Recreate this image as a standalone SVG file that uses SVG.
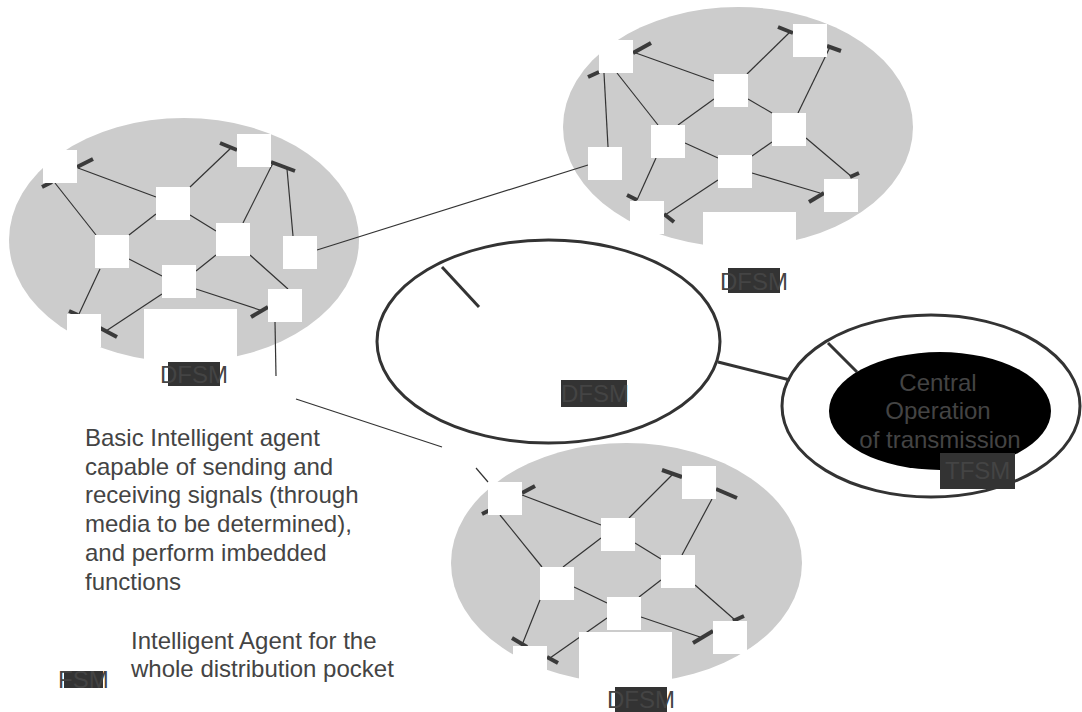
<svg xmlns="http://www.w3.org/2000/svg" width="1082" height="712" viewBox="0 0 1082 712">
<style>
.pk{fill:#cccccc;stroke:none}
.sq{fill:#ffffff;stroke:none}
.bx{fill:#ffffff;stroke:none}
.ln{stroke:#333333;stroke-width:1.2;fill:none}
.tk{stroke:#3a3a3a;stroke-width:4;fill:none}
.hv{stroke:#333333;stroke-width:3}
.ring{fill:#ffffff;stroke:#333333;stroke-width:3}
.t{font-family:"Liberation Sans",Arial,sans-serif;font-size:24px;fill:#444444}
.tag{fill:#333333}
</style>
<rect width="1082" height="712" fill="#ffffff"/>

<!-- pockets (backgrounds) -->
<g id="pocket-left"><ellipse class="pk" cx="184" cy="240" rx="175" ry="122"/></g>
<g id="pocket-topright"><ellipse class="pk" cx="738" cy="127" rx="175" ry="120"/></g>
<g id="pocket-bottom"><ellipse class="pk" cx="626.5" cy="563" rx="175.5" ry="120"/></g>

<g id="central-ellipse"><ellipse class="ring" cx="548.5" cy="341.5" rx="171.5" ry="101.5"/></g>
<g id="transmission-ring"><ellipse class="ring" cx="931" cy="406" rx="149" ry="91"/></g>

<!-- connectors -->
<g id="connectors">
  <!-- left pocket -->
  <line class="ln" x1="78" y1="168" x2="156" y2="197"/>
  <line class="ln" x1="55" y1="183" x2="96" y2="235"/>
  <line class="ln" x1="190" y1="187" x2="232" y2="147"/>
  <line class="ln" x1="273" y1="163" x2="243" y2="223"/>
  <line class="ln" x1="287" y1="169" x2="293" y2="236"/>
  <line class="ln" x1="156" y1="214" x2="129" y2="235"/>
  <line class="ln" x1="190" y1="215" x2="216" y2="231"/>
  <line class="ln" x1="129" y1="259" x2="162" y2="276"/>
  <line class="ln" x1="216" y1="255" x2="196" y2="271"/>
  <line class="ln" x1="250" y1="255" x2="288" y2="289"/>
  <line class="ln" x1="196" y1="289" x2="263" y2="311"/>
  <line class="ln" x1="100" y1="269" x2="79" y2="314"/>
  <line class="ln" x1="162" y1="294" x2="106" y2="331"/>
  <line class="tk" x1="77" y1="167" x2="93" y2="159"/>
  <line class="tk" x1="42" y1="187" x2="52" y2="182"/>
  <line class="tk" x1="220" y1="143" x2="237" y2="150"/>
  <line class="tk" x1="271" y1="162" x2="295" y2="171"/>
  <line class="tk" x1="251" y1="317" x2="268" y2="307"/>
  <line class="tk" x1="69" y1="311" x2="78" y2="315"/>
  <line class="tk" x1="100" y1="328" x2="117" y2="337"/>
  <!-- top-right pocket -->
  <line class="ln" x1="633" y1="52" x2="714" y2="81"/>
  <line class="ln" x1="604" y1="73" x2="608" y2="147"/>
  <line class="ln" x1="617" y1="73" x2="658" y2="125"/>
  <line class="ln" x1="747" y1="74" x2="790" y2="32"/>
  <line class="ln" x1="830" y1="47" x2="798" y2="113"/>
  <line class="ln" x1="714" y1="99" x2="678" y2="125"/>
  <line class="ln" x1="748" y1="99" x2="772" y2="113"/>
  <line class="ln" x1="685" y1="143" x2="718" y2="158"/>
  <line class="ln" x1="772" y1="142" x2="752" y2="156"/>
  <line class="ln" x1="806" y1="138" x2="852" y2="177"/>
  <line class="ln" x1="752" y1="173" x2="820" y2="193"/>
  <line class="ln" x1="656" y1="158" x2="637" y2="200"/>
  <line class="ln" x1="718" y1="180" x2="665" y2="215"/>
  <line class="tk" x1="633" y1="53" x2="651" y2="43"/>
  <line class="tk" x1="588" y1="77" x2="599" y2="72"/>
  <line class="tk" x1="778" y1="27" x2="793" y2="33"/>
  <line class="tk" x1="827" y1="46" x2="841" y2="51"/>
  <line class="tk" x1="850" y1="177" x2="859" y2="173"/>
  <line class="tk" x1="809" y1="202" x2="824" y2="193"/>
  <line class="tk" x1="627" y1="195" x2="637" y2="200"/>
  <line class="tk" x1="664" y1="214" x2="674" y2="222"/>
  <!-- bottom pocket -->
  <line class="ln" x1="522" y1="495" x2="601" y2="525"/>
  <line class="ln" x1="500" y1="515" x2="542" y2="567"/>
  <line class="ln" x1="629" y1="518" x2="672" y2="475"/>
  <line class="ln" x1="712" y1="499" x2="682" y2="555"/>
  <line class="ln" x1="601" y1="538" x2="563" y2="567"/>
  <line class="ln" x1="635" y1="543" x2="661" y2="559"/>
  <line class="ln" x1="574" y1="587" x2="607" y2="603"/>
  <line class="ln" x1="661" y1="580" x2="639" y2="597"/>
  <line class="ln" x1="695" y1="585" x2="735" y2="620"/>
  <line class="ln" x1="641" y1="617" x2="700" y2="637"/>
  <line class="ln" x1="540" y1="600" x2="522" y2="645"/>
  <line class="ln" x1="607" y1="618" x2="550" y2="658"/>
  <line class="tk" x1="522" y1="493" x2="535" y2="486"/>
  <line class="tk" x1="482" y1="514" x2="492" y2="509"/>
  <line class="tk" x1="662" y1="470" x2="682" y2="477"/>
  <line class="tk" x1="716" y1="489" x2="737" y2="498"/>
  <line class="tk" x1="733" y1="621" x2="744" y2="616"/>
  <line class="tk" x1="693" y1="643" x2="713" y2="631"/>
  <line class="tk" x1="512" y1="638" x2="527" y2="647"/>
  <line class="tk" x1="547" y1="657" x2="558" y2="663"/>
  <!-- between pockets -->
  <line class="ln" x1="317" y1="250" x2="588" y2="165"/>
  <line class="ln" x1="275" y1="322" x2="276" y2="376"/>
  <line class="ln" x1="296" y1="399" x2="442" y2="447"/>
  <line class="ln" x1="476" y1="468" x2="488" y2="482"/>
  <!-- heavy links -->
  <line class="hv" x1="442" y1="267" x2="479" y2="307"/>
  <line class="hv" x1="718" y1="362" x2="790" y2="380"/>
  <line class="hv" x1="828" y1="343" x2="857" y2="372"/>
</g>

<!-- left pocket agents -->
<g id="left-agents">
  <rect class="sq" x="43" y="150" width="34" height="33"/>
  <rect class="sq" x="237" y="134" width="34" height="33"/>
  <rect class="sq" x="156" y="187" width="34" height="33"/>
  <rect class="sq" x="95" y="235" width="34" height="33"/>
  <rect class="sq" x="216" y="223" width="34" height="33"/>
  <rect class="sq" x="283" y="236" width="34" height="33"/>
  <rect class="sq" x="162" y="265" width="34" height="33"/>
  <rect class="sq" x="268" y="289" width="34" height="33"/>
  <rect class="sq" x="67" y="314" width="34" height="33"/>
</g>
<g id="topright-agents">
  <rect class="sq" x="599" y="40" width="34" height="33"/>
  <rect class="sq" x="793" y="24" width="34" height="33"/>
  <rect class="sq" x="714" y="74" width="34" height="33"/>
  <rect class="sq" x="651" y="125" width="34" height="33"/>
  <rect class="sq" x="772" y="113" width="34" height="33"/>
  <rect class="sq" x="588" y="147" width="34" height="33"/>
  <rect class="sq" x="718" y="155" width="34" height="33"/>
  <rect class="sq" x="824" y="179" width="34" height="33"/>
  <rect class="sq" x="630" y="201" width="34" height="33"/>
</g>
<g id="bottom-agents">
  <rect class="sq" x="488" y="482" width="34" height="33"/>
  <rect class="sq" x="682" y="466" width="34" height="33"/>
  <rect class="sq" x="601" y="518" width="34" height="33"/>
  <rect class="sq" x="540" y="567" width="34" height="33"/>
  <rect class="sq" x="661" y="555" width="34" height="33"/>
  <rect class="sq" x="607" y="597" width="34" height="33"/>
  <rect class="sq" x="713" y="621" width="34" height="33"/>
  <rect class="sq" x="513" y="646" width="34" height="33"/>
</g>

<!-- DFSM labels -->
<g id="dfsm-left">
  <rect class="bx" x="144" y="309" width="93" height="55"/>
  <rect class="tag" x="168" y="362" width="52" height="24"/>
  <text class="t" x="160" y="383">DFSM</text>
</g>
<g id="dfsm-topright">
  <rect class="bx" x="703" y="212" width="93" height="40"/>
  <rect class="tag" x="728" y="268" width="52" height="25"/>
  <text class="t" x="720" y="290">DFSM</text>
</g>
<g id="dfsm-bottom">
  <rect class="bx" x="579" y="632" width="93" height="55"/>
  <rect class="tag" x="615" y="687" width="52" height="25"/>
  <text class="t" x="607" y="708">DFSM</text>
</g>
<g id="dfsm-center">
  <rect class="tag" x="561" y="380" width="66" height="27"/>
  <text class="t" x="561" y="402">DFSM</text>
</g>

<!-- central operation of transmission -->
<g id="central-operation">
  <ellipse cx="940" cy="411" rx="111" ry="59" fill="#000000"/>
  <text class="t" text-anchor="middle"><tspan x="938" y="391">Central</tspan><tspan x="938" y="419">Operation</tspan><tspan x="940" y="448">of transmission</tspan></text>
  <rect class="tag" x="940" y="453" width="75" height="36"/>
  <text class="t" x="945" y="479">TFSM</text>
</g>

<!-- descriptions -->
<g id="desc-basic">
  <text class="t"><tspan x="85" y="446">Basic Intelligent agent</tspan><tspan x="85" y="475">capable of sending and</tspan><tspan x="85" y="503">receiving signals (through</tspan><tspan x="85" y="532">media to be determined),</tspan><tspan x="85" y="561">and perform imbedded</tspan><tspan x="85" y="590">functions</tspan></text>
</g>
<g id="legend-fsm">
  <rect class="tag" x="64" y="671" width="39" height="17"/>
  <text class="t" x="58" y="688">FSM</text>
  <text class="t"><tspan x="131" y="649">Intelligent Agent for the</tspan><tspan x="131" y="677">whole distribution pocket</tspan></text>
</g>
</svg>
